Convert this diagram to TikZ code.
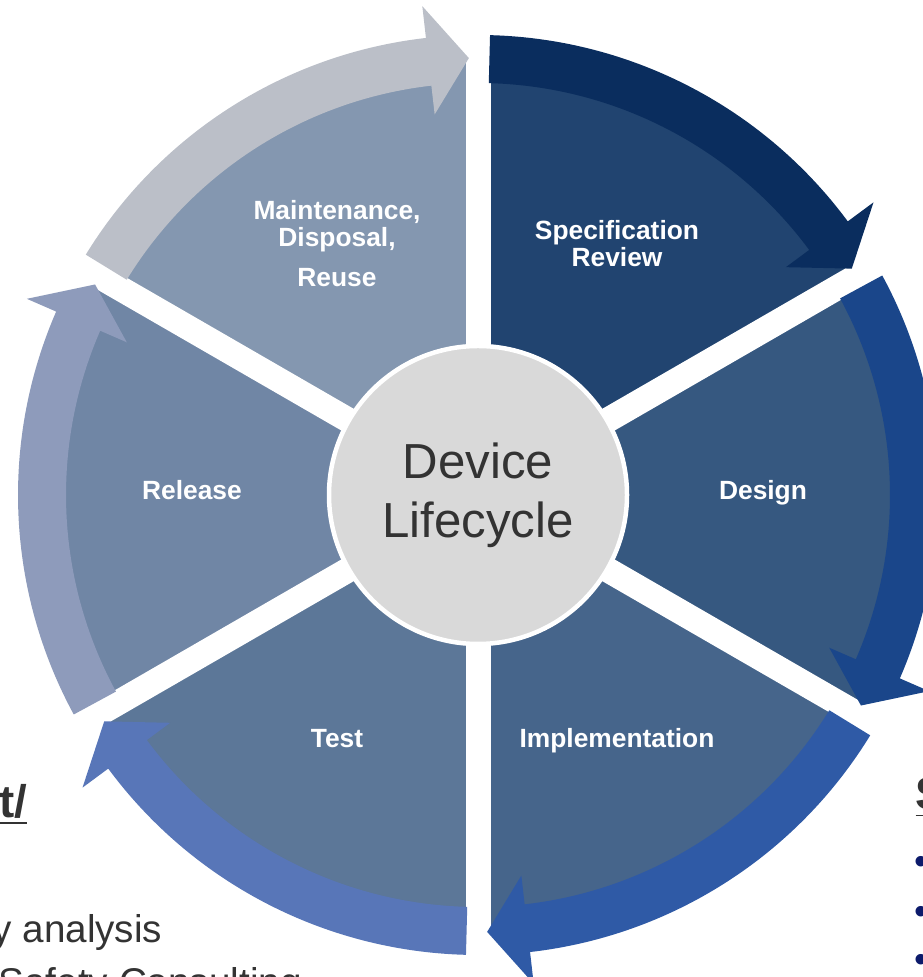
\documentclass[tikz,border=0pt]{standalone}
\usepackage{fontspec}
\setmainfont{Liberation Sans}
\definecolor{maintfill}{HTML}{8497B0}
\definecolor{maintarrow}{HTML}{BBBFC8}
\definecolor{specfill}{HTML}{214470}
\definecolor{specarrow}{HTML}{0A2D5E}
\definecolor{designfill}{HTML}{365880}
\definecolor{designarrow}{HTML}{1A468A}
\definecolor{implfill}{HTML}{46658B}
\definecolor{implarrow}{HTML}{2F5AA6}
\definecolor{testfill}{HTML}{5C7798}
\definecolor{testarrow}{HTML}{5876B8}
\definecolor{releasefill}{HTML}{7086A5}
\definecolor{releasearrow}{HTML}{8E9BBB}
\definecolor{hubfill}{HTML}{D9D9D9}
\definecolor{darktext}{HTML}{333333}
\definecolor{bulletblue}{HTML}{0C1A6B}
\tikzstyle{phase} = [text = white, font = \bfseries\fontsize{7.5}{7.7}\selectfont, align = center, inner sep = 0pt]
\tikzstyle{hub} = [circle, fill = hubfill, draw = white, line width = 0.045cm, minimum size = 2.98cm, text = darktext, font = \fontsize{14}{16.8}\selectfont, align = center]
\tikzstyle{gap} = [draw = white, line width = 0.25cm]
\tikzstyle{note} = [text = darktext, inner sep = 0pt]
\tikzstyle{bullet} = [text = bulletblue, inner sep = 0pt, font = \fontsize{11}{13}\selectfont]
% pie slice from angle #1 clockwise over 60 degrees
\newcommand{\phasesector}[2]{\fill [#2] (0, 0) -- (#1:4.35) arc [start angle = #1, end angle = #1 - 60, radius = 4.35] -- cycle;}
% curved arrow with its tail just after angle #1
\newcommand{\phasearrow}[2]{\fill [#2] (#1 - 1.5:4.12) arc [start angle = #1 - 1.5, end angle = #1 - 53.5, radius = 4.12] -- (#1 - 53.5:3.83) -- (#1 - 58.8:4.37) -- (#1 - 53.5:4.92) -- (#1 - 53.5:4.60) arc [start angle = #1 - 53.5, end angle = #1 - 1.5, radius = 4.60] -- cycle;}

\begin{document}
\begin{tikzpicture}
			\useasboundingbox (-4.78, -4.82) rectangle (4.44, 4.95);
			% Sectors
			\phasesector{150}{maintfill}
			\phasesector{90}{specfill}
			\phasesector{30}{designfill}
			\phasesector{-30}{implfill}
			\phasesector{-90}{testfill}
			\phasesector{210}{releasefill}
			% Gaps
			\path [gap] (0, 0) -- (90:4.5);
			\path [gap] (0, 0) -- (30:4.5);
			\path [gap] (0, 0) -- (-30:4.5);
			\path [gap] (0, 0) -- (-90:4.5);
			\path [gap] (0, 0) -- (210:4.5);
			\path [gap] (0, 0) -- (150:4.5);
			% Arrows
			\phasearrow{150}{maintarrow}
			\phasearrow{90}{specarrow}
			\phasearrow{30}{designarrow}
			\phasearrow{-30}{implarrow}
			\phasearrow{-90}{testarrow}
			\phasearrow{210}{releasearrow}
			% Place nodes
			\node [hub] (hub) at (0, 0) {Device\\Lifecycle};
			\node [phase] (maint) at (-1.41, 2.51) {Maintenance,\\Disposal,\\[3.7pt]Reuse};
			\node [phase] (spec) at (1.39, 2.51) {Specification\\Review};
			\node [phase, anchor = base] (design) at (2.85, -0.05) {Design};
			\node [phase, anchor = base] (impl) at (1.39, -2.53) {Implementation};
			\node [phase, anchor = base] (test) at (-1.41, -2.53) {Test};
			\node [phase, anchor = base] (release) at (-2.86, -0.05) {Release};
			% Side texts
			\node [note, anchor = base east, font = \bfseries\fontsize{13}{15}\selectfont] (lefthead) at (-4.50, -3.22) {\underline{t/}};
			\node [note, anchor = base east, font = \fontsize{11}{13}\selectfont] (leftone) at (-3.15, -4.47) {ry analysis};
			\node [note, anchor = base west, font = \fontsize{11}{13}\selectfont] (lefttwo) at (-4.80, -5.00) {Safety Consulting};
			\node [note, anchor = base west, font = \bfseries\fontsize{13}{15}\selectfont] (righthead) at (4.37, -3.15) {\underline{S}};
			\node [bullet, anchor = west] (bulletone) at (4.36, -3.70) {•};
			\node [bullet, anchor = west] (bullettwo) at (4.36, -4.20) {•};
			\node [bullet, anchor = west] (bulletthree) at (4.36, -4.68) {•};
		\end{tikzpicture}
\end{document}
